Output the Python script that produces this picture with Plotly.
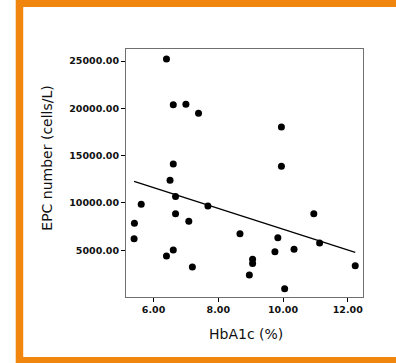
import numpy as np
import plotly.graph_objects as go

# HbA1c (%) and EPC count for each subject
hba1c = [6.40, 6.61, 7.00, 7.39, 9.95, 9.95, 6.61, 6.51, 6.68, 5.62,
         7.68, 6.68, 10.95, 7.09, 5.41, 8.67, 5.40, 9.84, 11.13, 10.34,
         9.75, 6.61, 6.40, 9.06, 9.06, 7.20, 12.23, 8.96, 10.05]
epc = [25220, 20390, 20430, 19480, 18030, 13880, 14120, 12400, 10670, 9860,
       9680, 8870, 8870, 8070, 7850, 6750, 6230, 6330, 5770, 5100,
       4850, 5030, 4400, 4050, 3590, 3240, 3370, 2390, 940]

x_ticks = [6, 8, 10, 12]
y_ticks = [5000, 10000, 15000, 20000, 25000]

# least-squares fit line across the observed HbA1c range
slope, intercept = np.polyfit(hba1c, epc, 1)
fit_x = [min(hba1c), max(hba1c)]
fit_y = [slope * v + intercept for v in fit_x]

W, H = 396, 363
L, R, T, B = 125.5, 33, 49, 66
PW, PH = W - L - R, H - T - B


def px(x):
    return (x - L) / PW


def py(y):
    return (H - B - y) / PH


fig = go.Figure()
fig.add_trace(go.Scatter(x=fit_x, y=fit_y, mode="lines",
                         line=dict(color="black", width=1.3),
                         hoverinfo="skip", showlegend=False))
fig.add_trace(go.Scatter(x=hba1c, y=epc, mode="markers",
                         marker=dict(color="black", size=7),
                         showlegend=False))

axis_common = dict(showline=True, linecolor="#707070", linewidth=1,
                   mirror=True, showgrid=False, zeroline=False,
                   ticks="outside", ticklen=4, tickcolor="black",
                   tickformat=".2f",
                   tickfont=dict(family="DejaVu Sans", size=9.5,
                                 color="#111", weight="bold"))

fig.update_xaxes(range=[5.15, 12.47], tickvals=x_ticks, **axis_common)
fig.update_yaxes(range=[63, 26270], tickvals=y_ticks, **axis_common)

fig.update_layout(
    width=W, height=H,
    margin=dict(l=L, r=R, t=T, b=B, pad=0),
    paper_bgcolor="white",
    plot_bgcolor="rgba(0,0,0,0)",
    font=dict(family="DejaVu Sans", color="black"),
    shapes=[
        dict(type="rect", xref="paper", yref="paper", layer="below",
             x0=px(15), x1=px(420), y0=py(-10), y1=py(373),
             fillcolor="#F0860E", line=dict(width=0)),
        dict(type="rect", xref="paper", yref="paper", layer="below",
             x0=px(22.5), x1=px(420), y0=py(7), y1=py(357),
             fillcolor="white", line=dict(width=0)),
    ],
    annotations=[
        dict(text="HbA1c (%)", xref="paper", yref="paper",
             x=px(246), y=py(334), xanchor="center", yanchor="middle",
             showarrow=False, font=dict(size=14, color="#111")),
        dict(text="EPC number (cells/L)", xref="paper", yref="paper",
             x=px(46), y=py(158), xanchor="center", yanchor="middle",
             textangle=-90, showarrow=False,
             font=dict(size=14, color="#111")),
    ],
)

fig.write_html("out.html")
